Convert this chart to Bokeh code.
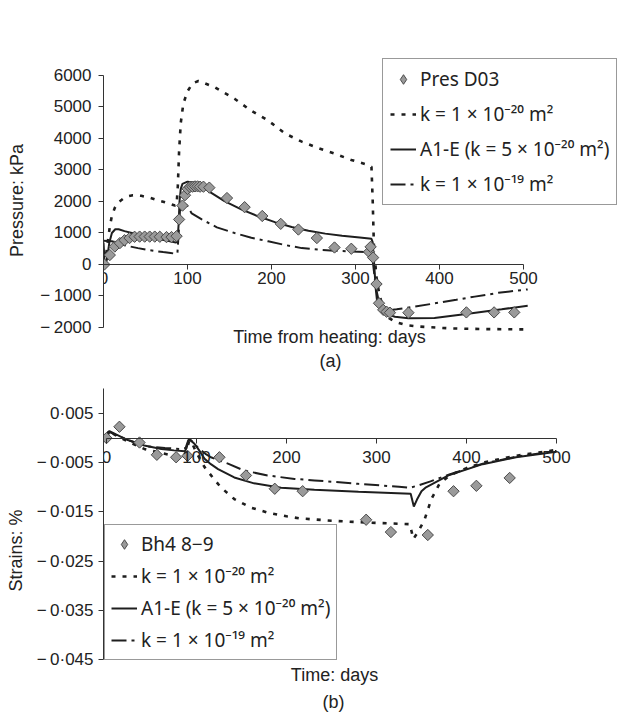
import math
from bokeh.plotting import figure
from bokeh.models import (Range1d, FixedTicker, CustomJSTickFormatter, Label,
                          Legend, LegendItem)
from bokeh.layouts import column
from bokeh.embed import file_html
from bokeh.resources import INLINE

FONT = "Liberation Sans"
LEGEND_FONT = "Noto Sans"
INK = "#1e1e1e"

# ---------------- (a) pore pressure ----------------
pres_days = [1, 7.5, 13.5, 19.5, 25, 31, 37, 43, 49, 55, 61, 67, 75, 81, 87, 90, 94, 97, 100,
             103, 106, 109, 112, 115, 119, 126, 147, 168, 189, 211, 232, 254, 275, 295,
             316, 318, 321, 325, 328, 333, 337, 341, 363, 432, 465, 489]
pres_kpa = [0, 300, 570, 680, 770, 840, 880, 885, 885, 885, 885, 880, 870, 870, 900, 1430, 1870, 2200, 2400,
            2460, 2470, 2480, 2480, 2470, 2470, 2440, 2110, 1820, 1540, 1290, 1110, 840, 540, 500,
            400, 560, 220, -620, -1230, -1440, -1500, -1530, -1530, -1520, -1520, -1520]

k20_days = [0, 3, 5.5, 7.5, 10, 13.5, 18, 23, 30, 35, 45, 55, 63, 75, 85, 87, 88.5, 90, 92, 95, 100,
            106, 113, 120, 132, 156, 176, 196, 216, 236, 256, 275, 295, 315, 319, 320.5, 322, 325,
            328, 333, 340, 347, 360, 375, 414, 454, 505]
k20_kpa = [0, 300, 800, 1200, 1550, 1800, 1980, 2080, 2170, 2200, 2180, 2120, 2050, 1960, 1870, 1880,
           2500, 3600, 4500, 5100, 5500, 5750, 5825, 5760, 5630, 5260, 4880, 4570, 4160, 3900, 3690,
           3520, 3320, 3160, 3100, 2000, 500, -400, -900, -1400, -1700, -1820, -1920, -1970, -2030,
           -2050, -2060]

a1e_days = [0, 1.5, 4, 7, 10, 14, 18, 25, 35, 45, 55, 65, 75, 86, 88, 89.5, 90.5, 92, 94, 100, 113,
            125, 144, 164, 184, 204, 224, 244, 264, 284, 305, 319, 320.5, 321.5, 322.5, 324, 326,
            330, 333, 340, 347, 363, 394, 434, 474, 505]
a1e_kpa = [700, 0, 150, 700, 1000, 1120, 1120, 1060, 990, 930, 870, 810, 760, 700, 720, 1300, 2000,
           2400, 2560, 2630, 2590, 2330, 2010, 1750, 1530, 1345, 1190, 1070, 980, 910, 855, 815, 700,
           300, -100, -750, -1235, -1420, -1500, -1600, -1660, -1710, -1695, -1560, -1420, -1310]

k19_days = [0, 10, 20, 31, 41, 51, 61, 71, 80, 86, 88, 89.5, 91, 93, 95, 100, 105, 117, 135, 156,
            176, 196, 216, 236, 256, 275, 295, 315, 319, 321, 324, 328, 333, 340, 349, 370, 394,
            420, 442, 470, 505]
k19_kpa = [750, 740, 650, 575, 520, 470, 430, 395, 365, 340, 360, 1000, 1700, 1950, 2000, 1850, 1620,
           1430, 1180, 1000, 850, 735, 620, 520, 470, 440, 415, 395, 390, 0, -700, -1200, -1420,
           -1450, -1420, -1340, -1235, -1120, -1020, -900, -790]

# ---------------- (b) strains ----------------
bh4_days = [0, 14.4, 36.7, 56, 77.4, 90, 125.5, 155, 187, 218, 288.5, 316, 357, 385.6, 411, 448]
bh4_strain = [0, 0.0023, -0.0009, -0.0034, -0.0039, -0.0036, -0.0039, -0.0076, -0.0103, -0.0108,
              -0.0166, -0.0191, -0.0197, -0.0108, -0.0097, -0.0081]

s_a1e_days = [0, 1.5, 3.3, 10, 23.7, 42, 61, 75, 87, 89, 91, 92.5, 95, 98, 103, 109, 116, 124, 142,
              164, 194, 231, 280, 338, 341.5, 345, 350, 355, 381, 418, 455, 500]
s_a1e = [0, 0.0012, 0.0014, 0.0008, -0.0004, -0.0015, -0.0022, -0.0025, -0.0027, -0.0020, -0.0006,
         -0.0004, -0.0007, -0.0012, -0.0025, -0.0042, -0.0053, -0.0063, -0.0080, -0.0092, -0.0101,
         -0.0105, -0.0109, -0.0113, -0.0139, -0.0125, -0.0108, -0.0100, -0.0075, -0.0053, -0.0039,
         -0.0028]

s_k19_days = [0, 3.3, 15, 30, 46, 65, 81, 88, 91, 93, 97, 103, 110, 116, 135, 153, 179, 209, 231,
              280, 325, 337, 345, 360, 381, 418, 455, 500]
s_k19 = [0, 0.0012, 0.0003, -0.0008, -0.0017, -0.0020, -0.0022, -0.0020, -0.0004, -0.0003, -0.0010,
         -0.0022, -0.0032, -0.0039, -0.0052, -0.0066, -0.0076, -0.0083, -0.0086, -0.0093, -0.0099,
         -0.0101, -0.0097, -0.0088, -0.0074, -0.0052, -0.0038, -0.0026]

s_k20_days = [0, 3.3, 15, 30, 42, 60, 75, 86, 89, 92, 95, 100, 105, 109, 118, 127, 142, 160, 180,
              200, 214, 250, 281, 337, 339, 341, 346, 353, 361, 370, 381, 400, 420, 455, 500]
s_k20 = [0, 0.0013, 0.0001, -0.0012, -0.0022, -0.0030, -0.0036, -0.0038, -0.0025, -0.0005, -0.0010,
         -0.0030, -0.0046, -0.0059, -0.0080, -0.0100, -0.0124, -0.0141, -0.0152, -0.0159, -0.0163,
         -0.0168, -0.0171, -0.0175, -0.0190, -0.0205, -0.0191, -0.0168, -0.0124, -0.0093, -0.0076,
         -0.0061, -0.0049, -0.0036, -0.0024]

x_ticks = [0, 100, 200, 300, 400, 500]
pres_ticks = [-2000, -1000, 0, 1000, 2000, 3000, 4000, 5000, 6000]
strain_ticks = [0.005, -0.005, -0.015, -0.025, -0.035, -0.045]

lbl_pres = "Pres D03"
lbl_bh4 = "Bh4 8\u22129"
lbl_k20 = "k = 1 \u00d7 10\u207b\u00b2\u2070 m\u00b2"
lbl_a1e = "A1-E (k = 5 \u00d7 10\u207b\u00b2\u2070 m\u00b2)"
lbl_k19 = "k = 1 \u00d7 10\u207b\u00b9\u2079 m\u00b2"

DOT = "4 7"
DASHDOT = "15 5 3 5"
MARK_FILL = "#9a9a9a"
MARK_LINE = "#4a4a4a"


def style_axes(p, title, title_standoff):
    for ax in (p.xaxis[0], p.yaxis[0]):
        ax.axis_line_color = "#333333"
        ax.major_tick_line_color = "#333333"
        ax.minor_tick_line_color = None
        ax.major_tick_in = 0
        ax.major_tick_out = 5
        ax.major_label_text_font = FONT
        ax.major_label_text_font_size = "17px"
        ax.major_label_text_color = "#222222"
    yax = p.yaxis[0]
    yax.axis_label = title
    yax.axis_label_text_font = FONT
    yax.axis_label_text_font_size = "18px"
    yax.axis_label_text_font_style = "normal"
    yax.axis_label_text_color = "#222222"
    yax.axis_label_standoff = title_standoff
    p.xgrid.visible = False
    p.ygrid.visible = False
    p.outline_line_color = None


def add_text(p, text, sx, sy, size="18px"):
    p.add_layout(Label(x=sx, y=sy, x_units="screen", y_units="screen", text=text,
                       text_font=FONT, text_font_size=size,
                       text_color="#222222", text_align="center",
                       text_baseline="middle"))


def make_legend(items, loc, spacing, padding):
    return Legend(items=items, location=loc, orientation="vertical",
                  border_line_color="#333333", border_line_width=1,
                  background_fill_color="white", background_fill_alpha=1.0,
                  padding=padding, spacing=spacing, glyph_width=26, glyph_height=24,
                  label_height=26, label_standoff=4, margin=0,
                  label_text_font=LEGEND_FONT, label_text_font_size="19px",
                  label_text_color="#222222")


def add_points(p, xs, ys):
    # diamond key (hidden behind the first data marker) used for the legend swatch
    key = p.scatter(xs[:1], ys[:1], marker="diamond", size=8,
                    fill_color=MARK_FILL, line_color=MARK_LINE, line_width=1)
    p.scatter(xs, ys, marker="square", angle=math.pi / 4, size=8,
              fill_color=MARK_FILL, line_color=MARK_LINE, line_width=1)
    return key


# ---------- figure (a) ----------
p1 = figure(width=628, height=372, x_range=Range1d(0, 623.8), y_range=Range1d(-3428.6, 7492),
            output_backend="svg", toolbar_location=None,
            min_border_left=103, min_border_right=1, min_border_top=28, min_border_bottom=0)
style_axes(p1, "Pressure: kPa", 10)
p1.xaxis.fixed_location = 0
p1.xaxis.bounds = (0, 500)
p1.xaxis.ticker = FixedTicker(ticks=x_ticks)
p1.xaxis.major_label_standoff = 3
p1.yaxis.bounds = (-2000, 6000)
p1.yaxis.ticker = FixedTicker(ticks=pres_ticks)
p1.yaxis.major_label_standoff = 7
p1.yaxis.formatter = CustomJSTickFormatter(
    code='return tick < 0 ? "\u2212\u2009" + Math.abs(tick) : String(tick);')

r1_k20 = p1.line(k20_days, k20_kpa, line_color=INK, line_width=2.6, line_dash=DOT)
r1_a1e = p1.line(a1e_days, a1e_kpa, line_color=INK, line_width=2)
r1_k19 = p1.line(k19_days, k19_kpa, line_color=INK, line_width=2, line_dash=DASHDOT)
r1_key = add_points(p1, pres_days, pres_kpa)

p1.add_layout(make_legend([
    LegendItem(label=lbl_pres, renderers=[r1_key]),
    LegendItem(label=lbl_k20, renderers=[r1_k20]),
    LegendItem(label=lbl_a1e, renderers=[r1_a1e]),
    LegendItem(label=lbl_k19, renderers=[r1_k19]),
], (279, 167), 9, 7))

add_text(p1, "Time from heating: days", 226, 36)
add_text(p1, "(a)", 227, 12)

# ---------- figure (b) ----------
p2 = figure(width=628, height=341, x_range=Range1d(-3.3, 578.9), y_range=Range1d(-0.05598, 0.01028),
            output_backend="svg", toolbar_location=None,
            min_border_left=103, min_border_right=1, min_border_top=15, min_border_bottom=0)
style_axes(p2, "Strains: %", 8)
p2.xaxis.fixed_location = 0
p2.xaxis.bounds = (0, 500)
p2.xaxis.ticker = FixedTicker(ticks=x_ticks)
p2.xaxis.major_label_standoff = 8
p2.yaxis.bounds = (-0.045, 0.0101)
p2.yaxis.ticker = FixedTicker(ticks=strain_ticks)
p2.yaxis.major_label_standoff = 5
p2.yaxis.formatter = CustomJSTickFormatter(
    code='const s = Math.abs(tick).toFixed(3).replace(".", "\u00b7");'
         'return tick < 0 ? "\u2212\u2009" + s : s;')

r2_k20 = p2.line(s_k20_days, s_k20, line_color=INK, line_width=2.6, line_dash=DOT)
r2_a1e = p2.line(s_a1e_days, s_a1e, line_color=INK, line_width=2)
r2_k19 = p2.line(s_k19_days, s_k19, line_color=INK, line_width=2, line_dash=DASHDOT)
r2_key = add_points(p2, bh4_days, bh4_strain)

p2.add_layout(make_legend([
    LegendItem(label=lbl_bh4, renderers=[r2_key]),
    LegendItem(label=lbl_k20, renderers=[r2_k20]),
    LegendItem(label=lbl_a1e, renderers=[r2_a1e]),
    LegendItem(label=lbl_k19, renderers=[r2_k19]),
], (1, 53), 6, 6))

add_text(p2, "Time: days", 231, 39)
add_text(p2, "(b)", 230, 12)

layout = column(p1, p2, spacing=0)
open("out.html", "w").write(file_html(layout, INLINE))
